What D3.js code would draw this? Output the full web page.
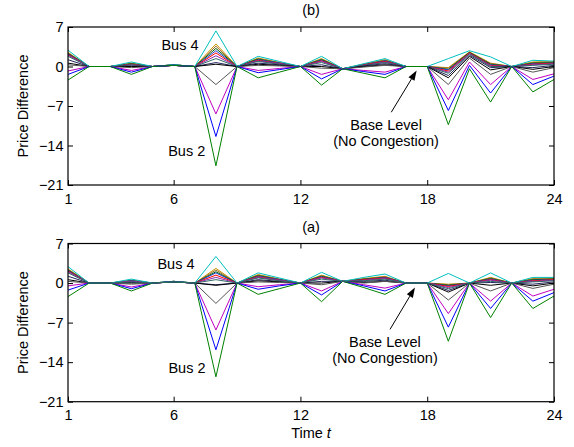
<!DOCTYPE html>
<html><head><meta charset="utf-8">
<script src="https://cdn.jsdelivr.net/npm/d3@7"></script>
<style>
html,body{margin:0;padding:0;background:#fff;}
svg text{font-family:"Liberation Sans",Arial,sans-serif;}
</style></head>
<body><svg id="chart" width="574" height="447"></svg>
<script>
// ---------------- data ----------------
const hours = [1,2,3,4,5,6,7,8,9,10,11,12,13,14,15,16,17,18,19,20,21,22,23,24];
const xTicks = [1,6,12,18,24];
const yTicks = [7,0,-7,-14,-21];
const seriesNames  = ["gold","brown","darkgreen","blue2","red","purple","teal","navy","black","gray","cyan","magenta","blue","green"];
const seriesColors = ["#c89600","#9a6a2a","#006400","#1f3fd0","#ff0000","#8a2bb0","#2f6a64","#24245e","#000000","#555555","#00bfbf","#c000c0","#0000ff","#008000"];

// panel (b) – top
const topGold      = [2.5,0,0,0.6,0,0.3,0,4.0,0,1.5,0.7,0,1.4,-0.4,0.4,1.2,0,0,-0.2,2.6,0.6,0,0.8,0.9];
const topBrown     = [2.4,0,0,0.5,0,0.3,0,3.6,0,1.4,0.7,0,1.3,-0.4,0.4,1.1,0,0,-0.3,2.5,0.5,0,0.7,0.8];
const topDarkGreen = [2.3,0,0,0.5,0,0.3,0,3.2,0,1.3,0.6,0,1.2,-0.4,0.3,1.0,0,0,-0.5,2.5,0.4,0,0.6,0.7];
const topBlue2     = [2.2,0,0,0.4,0,0.3,0,2.8,0,1.2,0.6,0,1.1,-0.4,0.3,1.0,0,0,-0.6,2.4,0.3,0,0.5,0.6];
const topRed       = [2.1,0,0,0.4,0,0.2,0,2.4,0,1.1,0.5,0,1.0,-0.4,0.3,0.9,0,0,-0.8,2.4,0.2,0,0.4,0.6];
const topPurple    = [2.0,0,0,0.3,0,0.2,0,1.9,0,1.0,0.5,0,0.9,-0.4,0.2,0.8,0,0,-1.0,2.3,0.1,0,0.3,0.5];
const topTeal      = [1.8,0,0,0.3,0,0.2,0,1.4,0,0.9,0.4,0,0.7,-0.4,0.2,0.7,0,0,-1.2,2.2,0,0,0.2,0.4];
const topNavy      = [1.2,0,0,0.1,0,0.2,0,0.7,0,0.6,0.3,0,0.3,-0.4,0.1,0.5,0,0,-1.6,2.0,-0.2,0,-0.2,0.2];
const topBlack     = [0.6,0,0,0,0,0.2,0,0.4,0,0.4,0.2,0,0,-0.4,0,0.3,0,0,-2.0,1.8,-0.6,0,-0.5,0];
const topGray      = [0.3,0,0,-0.2,0,0.2,0,-3.2,0,0.2,0.1,0,-0.3,-0.4,-0.1,0.2,0,0,-3.2,1.5,-1.4,0,-1.0,-0.2];
const topCyan      = [2.9,0,0,0.8,0,0.3,0,6.3,0,1.8,0.9,0,1.8,-0.4,0.5,1.4,0,0,1.4,2.8,1.7,0,1.1,0.95];
const topMagenta   = [-0.8,0,0,-0.7,0,0.2,0,-8.4,0,-0.7,-0.35,0,-1.4,-0.4,-0.7,-1.0,0,0,-5.9,0.8,-3.2,0,-2.3,-1.3];
const topBlue      = [-1.4,0,0,-1.0,0,0.2,0,-12.4,0,-1.1,-0.55,0,-2.2,-0.4,-0.9,-1.4,0,0,-7.8,0.2,-4.7,0,-3.2,-1.7];
const topGreen     = [-2.4,0,0,-1.4,0,0.2,0,-17.6,0,-2.0,-1.0,0,-3.3,-0.4,-1.2,-2.0,0,0,-10.3,-0.4,-6.3,0,-4.5,-2.3];

// panel (a) – bottom
const botGold      = [2.5,0,0,0.5,0,0.3,0,2.6,0,1.5,0.7,0,1.4,0.3,0.8,1.2,0,0,-0.2,0,1.0,0,0.8,0.9];
const botBrown     = [2.4,0,0,0.5,0,0.3,0,2.3,0,1.4,0.7,0,1.3,0.3,0.7,1.1,0,0,-0.3,0,0.9,0,0.7,0.8];
const botDarkGreen = [2.3,0,0,0.4,0,0.3,0,2.0,0,1.3,0.6,0,1.2,0.3,0.7,1.0,0,0,-0.4,0,0.8,0,0.6,0.7];
const botBlue2     = [2.2,0,0,0.4,0,0.3,0,1.8,0,1.2,0.6,0,1.1,0.3,0.6,1.0,0,0,-0.5,0,0.7,0,0.5,0.6];
const botRed       = [2.1,0,0,0.3,0,0.2,0,1.4,0,1.1,0.5,0,1.0,0.3,0.6,0.9,0,0,-0.6,0,0.6,0,0.4,0.6];
const botPurple    = [2.0,0,0,0.3,0,0.2,0,1.0,0,1.0,0.5,0,0.9,0.3,0.5,0.8,0,0,-0.8,0,0.5,0,0.3,0.5];
const botTeal      = [1.8,0,0,0.2,0,0.2,0,0.6,0,0.9,0.4,0,0.7,0.3,0.4,0.7,0,0,-1.0,0,0.3,0,0.2,0.4];
const botNavy      = [1.2,0,0,0.1,0,0.2,0,-0.3,0,0.6,0.3,0,0.3,0.3,0.3,0.5,0,0,-1.3,0,0.1,0,-0.2,0.2];
const botBlack     = [0.6,0,0,0,0,0.2,0,-0.4,0,0.4,0.2,0,0,0.3,0.1,0.3,0,0,-1.6,0,-0.4,0,-0.5,0];
const botGray      = [0.3,0,0,-0.2,0,0.2,0,-3.6,0,0.2,0.1,0,-0.3,0.3,0,0.3,0,0,-3.0,0,-1.4,0,-0.95,-0.2];
const botCyan      = [2.9,0,0,0.7,0,0.3,0,4.7,0,1.8,0.9,0,1.9,0.3,1.0,1.6,0,0,1.7,0,1.8,0,1.0,1.0];
const botMagenta   = [-0.5,0,0,-0.7,0,0.2,0,-8.3,0,-0.65,-0.3,0,-1.4,0.3,-0.3,-0.9,0,0,-5.4,0,-3.2,0,-2.3,-1.1];
const botBlue      = [-1.25,0,0,-1.0,0,0.2,0,-11.8,0,-1.1,-0.5,0,-2.1,0.3,-0.5,-1.4,0,0,-7.8,0,-4.5,0,-3.2,-1.7];
const botGreen     = [-2.4,0,0,-1.4,0,0.2,0,-16.6,0,-2.0,-1.0,0,-3.3,0.3,-0.8,-2.0,0,0,-10.3,0,-6.1,0,-4.5,-2.3];

const topSeries = [topGold,topBrown,topDarkGreen,topBlue2,topRed,topPurple,topTeal,topNavy,topBlack,topGray,topCyan,topMagenta,topBlue,topGreen];
const botSeries = [botGold,botBrown,botDarkGreen,botBlue2,botRed,botPurple,botNavy,botBlack,botGray,botCyan,botMagenta,botBlue,botGreen,botTeal];
const botColorIdx = [0,1,2,3,4,5,7,8,9,10,11,12,13,6];

// ---------------- drawing ----------------
const svg = d3.select("#chart");
const FS = 14.5;
const left = 68, right = 554;
const x = d3.scaleLinear().domain([1,24]).range([left,right]);

function panel(opts){
  const y = d3.scaleLinear().domain([-21,7]).range([opts.bottom, opts.top]);
  const g = svg.append("g");
  const line = d3.line().x((d,i)=>x(hours[i])).y(d=>y(d));
  opts.series.forEach((s,k)=>{
    g.append("path").attr("d", line(s)).attr("fill","none")
      .attr("stroke", seriesColors[opts.colorIdx[k]]).attr("stroke-width",1);
  });
  // frame
  g.append("rect").attr("x",left).attr("y",opts.top).attr("width",right-left).attr("height",opts.bottom-opts.top)
    .attr("fill","none").attr("stroke","#000").attr("stroke-width",1.2);
  const fmt = d3.format("d");
  const ax = g.append("g").attr("transform",`translate(0,${opts.bottom})`)
    .call(d3.axisBottom(x).tickValues(xTicks).tickFormat(fmt).tickSizeInner(-5).tickSizeOuter(0).tickPadding(opts.xPad));
  const axT = g.append("g").attr("transform",`translate(0,${opts.top})`)
    .call(d3.axisTop(x).tickValues(xTicks).tickFormat("").tickSizeInner(-5).tickSizeOuter(0));
  const ay = g.append("g").attr("transform",`translate(${left},0)`)
    .call(d3.axisLeft(y).tickValues(yTicks).tickFormat(fmt).tickSizeInner(-5).tickSizeOuter(0).tickPadding(4.5));
  const ayR = g.append("g").attr("transform",`translate(${right},0)`)
    .call(d3.axisRight(y).tickValues(yTicks).tickFormat("").tickSizeInner(-5).tickSizeOuter(0));
  [ax,axT,ay,ayR].forEach(a=>{
    a.select(".domain").remove();
    a.selectAll("line").attr("stroke","#000");
    a.selectAll("text").attr("font-size",FS).attr("fill","#000").attr("font-family","Liberation Sans, Arial, sans-serif");
  });
  // title
  g.append("text").attr("x",(left+right)/2).attr("y",opts.titleY).attr("text-anchor","middle")
    .attr("font-size",FS).text(opts.title);
  // y label
  g.append("text").attr("transform",`translate(28,${(opts.top+opts.bottom)/2}) rotate(-90)`)
    .attr("text-anchor","middle").attr("font-size",FS).text("Price Difference");
  // annotations
  g.append("text").attr("x",x(opts.bus4[0])).attr("y",y(opts.bus4[1])).attr("text-anchor","middle").attr("font-size",FS).text("Bus 4");
  g.append("text").attr("x",x(opts.bus2[0])).attr("y",y(opts.bus2[1])).attr("text-anchor","middle").attr("font-size",FS).text("Bus 2");
  g.append("text").attr("x",x(opts.base[0])).attr("y",y(opts.base[1])).attr("text-anchor","middle").attr("font-size",FS).text("Base Level");
  g.append("text").attr("x",x(opts.base[0])).attr("y",y(opts.base[2])).attr("text-anchor","middle").attr("font-size",FS).text("(No Congestion)");
  // arrow
  const x0 = x(opts.arrow[0]), y0 = y(opts.arrow[1]), x1 = x(opts.arrow[2]), y1 = y(opts.arrow[3]);
  const ang = Math.atan2(y1-y0, x1-x0), L = 10, W = 3.5;
  const bx = x1 - L*Math.cos(ang), by = y1 - L*Math.sin(ang);
  g.append("line").attr("x1",x0).attr("y1",y0).attr("x2",bx).attr("y2",by).attr("stroke","#000").attr("stroke-width",1);
  g.append("path").attr("d",`M${x1},${y1}L${bx - W*Math.sin(ang)},${by + W*Math.cos(ang)}L${bx + W*Math.sin(ang)},${by - W*Math.cos(ang)}Z`)
    .attr("fill","#000");
}

panel({top:27, bottom:185, series:topSeries, colorIdx:d3.range(14), title:"(b)", titleY:15, xPad:8.5,
  bus4:[6.3,2.9], bus2:[6.62,-15.9], base:[16.05,-11.2,-14.1], arrow:[16.3,-8.1,17.5,-0.7]});
panel({top:243.5, bottom:401.7, series:botSeries, colorIdx:botColorIdx, title:"(a)", titleY:232, xPad:8,
  bus4:[6.11,2.4], bus2:[6.63,-15.9], base:[16.0,-11.3,-14.2], arrow:[16.24,-8.2,17.42,-0.8]});

svg.append("text").attr("x",(left+right)/2).attr("y",437.5).attr("text-anchor","middle").attr("font-size",FS)
  .html('Time <tspan font-style="italic">t</tspan>');
</script></body></html>
